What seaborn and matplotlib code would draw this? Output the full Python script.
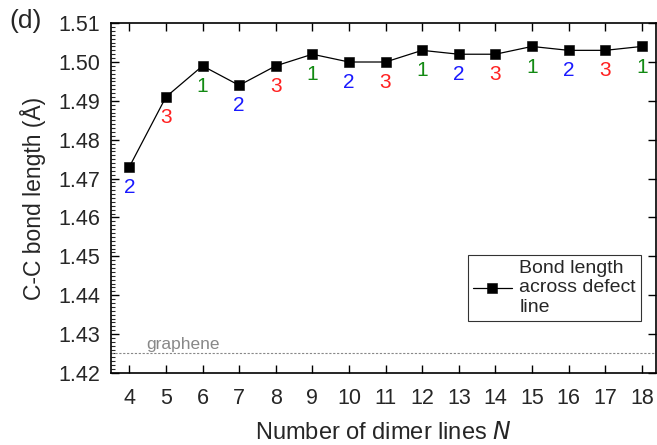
import pandas as pd
import matplotlib
matplotlib.use("Agg")
import matplotlib.pyplot as plt
from matplotlib.ticker import MultipleLocator, FormatStrFormatter
import seaborn as sns

# Data
n_lines = [4, 5, 6, 7, 8, 9, 10, 11, 12, 13, 14, 15, 16, 17, 18]
bond_length = [1.473, 1.491, 1.499, 1.494, 1.499, 1.502, 1.500, 1.500,
               1.503, 1.502, 1.502, 1.504, 1.503, 1.503, 1.504]
point_labels = ["2", "3", "1", "2", "3", "1", "2", "3", "1", "2", "3", "1", "2", "3", "1"]
label_colors = {"1": "#138a13", "2": "#1a1aff", "3": "#ff2020"}
graphene_value = 1.425

sns.set_theme(style="ticks")
plt.rcParams["font.family"] = ["Liberation Sans", "DejaVu Sans"]

df = pd.DataFrame({"N": n_lines, "bond": bond_length})

fig = plt.figure(figsize=(6.57, 4.45), dpi=100)
ax = fig.add_axes([0.169, 0.162, 0.829, 0.786])

sns.lineplot(data=df, x="N", y="bond", ax=ax, color="black", linewidth=0.9,
             marker="s", markersize=7.2, markeredgecolor="black", markeredgewidth=0.4,
             label="Bond length\nacross defect\nline")

for x, y, lab in zip(n_lines, bond_length, point_labels):
    ax.annotate(lab, (x, y), xytext=(0, -8), textcoords="offset points",
                ha="center", va="top", fontsize=15, color=label_colors[lab])

ax.axhline(graphene_value, color="#888888", linestyle=(0, (2, 1.5)), linewidth=0.8)
ax.text(4.45, graphene_value + 0.0004, "graphene", color="#888888",
        fontsize=12.5, ha="left", va="bottom")

ax.set_xlim(3.5, 18.38)
ax.set_ylim(1.42, 1.51)
ax.set_xticks(n_lines)
ax.yaxis.set_major_locator(MultipleLocator(0.01))
ax.yaxis.set_minor_locator(MultipleLocator(0.001))
ax.yaxis.set_major_formatter(FormatStrFormatter("%.2f"))

ax.tick_params(axis="both", which="major", direction="in", length=6, width=1,
               labelsize=15.5, top=True, right=True, color="black")
ax.tick_params(axis="y", which="minor", direction="in", length=3, width=0.8,
               left=True, right=False)
ax.tick_params(axis="x", which="major", pad=11)
ax.tick_params(axis="y", which="major", pad=8)
for s in ax.spines.values():
    s.set_linewidth(1.2)
    s.set_color("black")

ax.set_xlabel("Number of dimer lines $\\it{N}$", fontsize=17, labelpad=9)
ax.set_ylabel("C-C bond length (Å)", fontsize=16.5, labelpad=9)

leg = ax.legend(loc="upper left", bbox_to_anchor=(0.655, 0.337), borderaxespad=0,
                fontsize=14, frameon=True, fancybox=False, handlelength=2.0,
                handletextpad=0.4, borderpad=0.25, labelspacing=0.0)
leg.get_frame().set_edgecolor("black")
leg.get_frame().set_linewidth(0.8)

fig.text(0.015, 0.98, "(d)", fontsize=19, ha="left", va="top")

fig.savefig("out.png", dpi=100)
